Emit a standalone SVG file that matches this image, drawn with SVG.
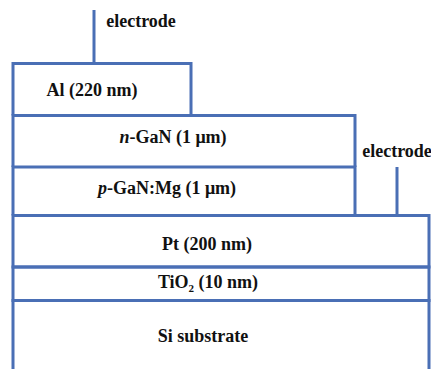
<svg xmlns="http://www.w3.org/2000/svg" width="431" height="369" viewBox="0 0 431 369">
<style>
.l{fill:none;stroke:#4a6fb5;stroke-width:3}
.t{font-family:"Liberation Serif","Times New Roman",serif;font-weight:bold;font-size:18px;fill:#111;text-anchor:middle}
</style>
<rect width="431" height="369" fill="#fff"/>
<g id="connectors">
<line class="l" x1="94" y1="10" x2="94" y2="63"/>
<line class="l" x1="397" y1="167" x2="397" y2="216"/>
</g>
<g id="al"><path class="l" d="M13 115.5 V63.5 H191 V115.5"/><text class="t" x="92" y="96">Al (220 nm)</text></g>
<g id="ngan"><path class="l" d="M13 167 V115.5 H355 V167"/><text class="t" x="173" y="143"><tspan font-style="italic">n</tspan>-GaN (1 μm)</text></g>
<g id="pgan"><path class="l" d="M13 215.5 V167 H355 V215.5"/><text class="t" x="167" y="194"><tspan font-style="italic">p</tspan>-GaN:Mg (1 μm)</text></g>
<g id="pt"><path class="l" d="M13 267 V215.5 H429 V267 Z"/><text class="t" x="207" y="250">Pt (200 nm)</text></g>
<g id="tio2"><path class="l" d="M13 300.5 V267 H429 V300.5 Z"/><text class="t" x="208" y="288">TiO<tspan font-size="11" dy="4">2</tspan><tspan dy="-4"> (10 nm)</tspan></text></g>
<g id="si"><path class="l" d="M13 369 V300.5 H429 V369"/><text class="t" x="203" y="342">Si substrate</text></g>
<g id="labels">
<text class="t" x="141" y="27">electrode</text>
<text class="t" x="397" y="157">electrode</text>
</g>
</svg>
